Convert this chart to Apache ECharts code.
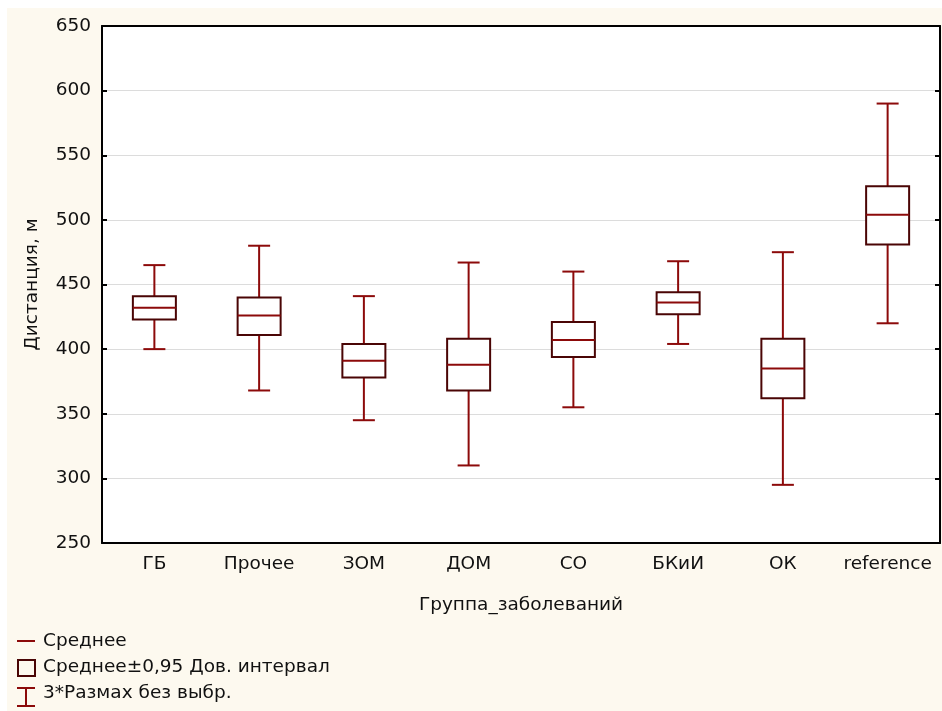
<!DOCTYPE html>
<html>
<head>
<meta charset="utf-8">
<title>Дистанция по группам</title>
<script src="https://cdn.jsdelivr.net/npm/echarts@6/dist/echarts.min.js"></script>
<style>
  html, body { margin: 0; padding: 0; background: #fff; }
  #main { width: 942px; height: 711px; }
</style>
</head>
<body>
<div id="main"></div>
<script>
// группы
var groups = ['ГБ', 'Прочее', 'ЗОМ', 'ДОМ', 'СО', 'БКиИ', 'ОК', 'reference'];
// 3*размах без выбросов
var rangeLow  = [400, 368, 345, 310, 355, 404, 295, 420];
var rangeHigh = [465, 480, 441, 467, 460, 468, 475, 590];
// доверительный интервал 0,95
var ciLow  = [423, 411, 378, 368, 394, 427, 362, 481];
var ciHigh = [441, 440, 404, 408, 421, 444, 408, 526];
// среднее
var means = [432, 426, 391, 388, 407, 436, 385, 504];

var yTicks = [250, 300, 350, 400, 450, 500, 550, 600, 650];

var whiskerColor = '#8c0a0a';
var boxColor = '#4a0505';
var font = 'DejaVu Sans, sans-serif';
var fs = 18.5;

var boxData = groups.map(function (g, i) {
    return [i, rangeLow[i], ciLow[i], means[i], ciHigh[i], rangeHigh[i]];
});

function renderBox(params, api) {
    var i = api.value(0);
    var pLow = api.coord([i, api.value(1)]);
    var pCiLow = api.coord([i, api.value(2)]);
    var pMean = api.coord([i, api.value(3)]);
    var pCiHigh = api.coord([i, api.value(4)]);
    var pHigh = api.coord([i, api.value(5)]);
    var x = pMean[0];
    var bw = 43, cw = 22;
    var ws = { stroke: whiskerColor, lineWidth: 2 };
    return {
        type: 'group',
        children: [
            { type: 'line', shape: { x1: x, y1: pHigh[1], x2: x, y2: pCiHigh[1] }, style: ws },
            { type: 'line', shape: { x1: x, y1: pCiLow[1], x2: x, y2: pLow[1] }, style: ws },
            { type: 'line', shape: { x1: x - cw / 2, y1: pHigh[1], x2: x + cw / 2, y2: pHigh[1] }, style: ws },
            { type: 'line', shape: { x1: x - cw / 2, y1: pLow[1], x2: x + cw / 2, y2: pLow[1] }, style: ws },
            { type: 'rect', shape: { x: x - bw / 2, y: pCiHigh[1], width: bw, height: pCiLow[1] - pCiHigh[1] },
              style: { fill: '#fff', stroke: boxColor, lineWidth: 2 } },
            { type: 'line', shape: { x1: x - bw / 2, y1: pMean[1], x2: x + bw / 2, y2: pMean[1] }, style: ws }
        ]
    };
}

var myChart = echarts.init(document.getElementById('main'));

var option = {
    backgroundColor: '#fff',
    animation: false,
    textStyle: { fontFamily: font },
    grid: {
        left: 102, top: 26, right: 2, bottom: 168,
        show: true, backgroundColor: '#fff', borderWidth: 0
    },
    xAxis: [{
        type: 'category',
        data: groups,
        position: 'bottom',
        name: 'Группа_заболеваний',
        nameLocation: 'middle',
        nameGap: 53,
        nameTextStyle: { fontSize: fs, color: '#111', fontFamily: font },
        axisLine: { lineStyle: { color: '#000', width: 2 } },
        axisTick: { inside: true, length: 5, alignWithLabel: true, lineStyle: { color: '#000', width: 2 } },
        axisLabel: { interval: 0, fontSize: fs, color: '#111', margin: 12, fontFamily: font },
        splitLine: { show: false }
    }, {
        type: 'category',
        data: groups,
        position: 'top',
        axisLine: { lineStyle: { color: '#000', width: 2 } },
        axisTick: { interval: 0, inside: true, length: 5, alignWithLabel: true, lineStyle: { color: '#000', width: 2 } },
        axisLabel: { show: false }
    }],
    yAxis: [{
        type: 'value',
        min: 250, max: 650, interval: 50,
        name: 'Дистанция, м',
        nameLocation: 'middle',
        nameGap: 60,
        nameTextStyle: { fontSize: fs, color: '#111', fontFamily: font },
        axisLine: { show: true, lineStyle: { color: '#000', width: 2 } },
        axisTick: { show: true, inside: true, length: 5, lineStyle: { color: '#000', width: 2 } },
        axisLabel: {
            fontSize: fs, color: '#111', margin: 11, fontFamily: font,
            formatter: function (v) { return yTicks.indexOf(v) >= 0 ? String(v) : ''; }
        },
        splitLine: { show: true, lineStyle: { color: '#dcdcdc', width: 1 } }
    }, {
        type: 'value',
        min: 250, max: 650, interval: 50,
        position: 'right',
        axisLine: { show: true, lineStyle: { color: '#000', width: 2 } },
        axisTick: { show: true, inside: true, length: 5, lineStyle: { color: '#000', width: 2 } },
        axisLabel: { show: false },
        splitLine: { show: false }
    }],
    graphic: [
        { type: 'rect', z: -10, shape: { x: 7, y: 8, width: 935, height: 703 }, style: { fill: '#fdf9ef' } },
        // легенда
        { type: 'line', shape: { x1: 17, y1: 641, x2: 35, y2: 641 }, style: { stroke: whiskerColor, lineWidth: 2 } },
        { type: 'text', x: 43, y: 641, style: { text: 'Среднее', fontSize: fs, fontFamily: font, fill: '#111', verticalAlign: 'middle' } },
        { type: 'rect', shape: { x: 18, y: 660, width: 17, height: 16 }, style: { fill: 'none', stroke: boxColor, lineWidth: 2 } },
        { type: 'text', x: 43, y: 667, style: { text: 'Среднее±0,95 Дов. интервал', fontSize: fs, fontFamily: font, fill: '#111', verticalAlign: 'middle' } },
        { type: 'line', shape: { x1: 17, y1: 688, x2: 35, y2: 688 }, style: { stroke: whiskerColor, lineWidth: 2 } },
        { type: 'line', shape: { x1: 26, y1: 688, x2: 26, y2: 706 }, style: { stroke: whiskerColor, lineWidth: 2 } },
        { type: 'line', shape: { x1: 17, y1: 706, x2: 35, y2: 706 }, style: { stroke: whiskerColor, lineWidth: 2 } },
        { type: 'text', x: 43, y: 693, style: { text: '3*Размах без выбр.', fontSize: fs, fontFamily: font, fill: '#111', verticalAlign: 'middle' } }
    ],
    series: [{
        type: 'custom',
        name: 'box',
        xAxisIndex: 0,
        yAxisIndex: 0,
        renderItem: renderBox,
        encode: { x: 0, y: [1, 2, 3, 4, 5] },
        data: boxData
    }]
};

myChart.setOption(option);
</script>
</body>
</html>
